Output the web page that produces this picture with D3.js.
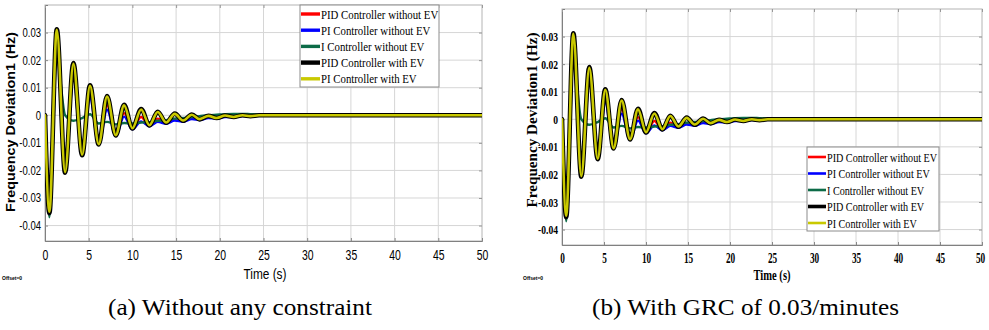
<!DOCTYPE html>
<html><head><meta charset="utf-8">
<script src="https://cdn.jsdelivr.net/npm/d3@7"></script>
<style>body{margin:0;background:#fff;} svg{display:block;}</style>
</head><body>
<svg id="c" width="989" height="330"></svg>
<script>
// ---------- DATA ----------
const timeS = [0, 0.5, 1.35, 2.3, 3.25, 4.25, 5.15, 6.15, 7.1, 8.1, 9.05, 10.0, 11.0, 11.95, 12.9, 13.85, 14.85, 15.8, 16.8, 17.7, 18.7, 19.65, 20.6, 21.6, 22.6, 23.5, 24.5, 26, 28, 30, 35, 40, 45, 50];
const pidWithoutEV = [0, -0.034, 0.025, -0.0205, 0.0172, -0.0145, 0.0082, -0.0105, 0.0036, -0.0073, 0.0008, -0.0049, -0.0006, -0.0038, -0.0012, -0.0028, -0.0013, -0.0021, -0.0009, -0.0015, -0.0007, -0.001, -0.0003, -0.0006, -0.0001, -0.0003, 0, 0, 0, 0, 0, 0, 0, 0];
const piWithoutEV  = [0, -0.034, 0.027, -0.0207, 0.0135, -0.0147, 0.006, -0.0107, 0.002, -0.0075, -0.0005, -0.0051, -0.0022, -0.004, -0.0024, -0.0031, -0.0019, -0.0024, -0.0014, -0.0017, -0.001, -0.0012, -0.0006, -0.0007, -0.0003, -0.0004, -0.0001, 0, 0, 0, 0, 0, 0, 0];
const iWithoutEV   = [0, -0.037, 0.021, 0.0, -0.002, -0.001, 0.0004, -0.003, -0.0024, -0.0033, -0.0028, -0.003, -0.0026, -0.0025, -0.002, -0.0018, -0.0012, -0.001, -0.0006, -0.0003, 0.0, 0.0002, 0.0004, 0.0005, 0.0005, 0.0004, 0.0003, 0.0002, 0.0001, 0, 0, 0, 0, 0];
const pidWithEV    = [0, -0.0355, 0.0312, -0.0208, 0.0189, -0.0145, 0.0109, -0.0106, 0.007, -0.0073, 0.0038, -0.0048, 0.0023, -0.0037, 0.0013, -0.0027, 0.0006, -0.002, 0.0003, -0.0015, -0.0002, -0.001, -0.0001, -0.0006, 0, -0.0003, 0, 0, 0, 0, 0, 0, 0, 0];
const piWithEV     = [0, -0.035, 0.031, -0.0206, 0.0187, -0.0143, 0.0107, -0.0105, 0.0068, -0.0072, 0.0036, -0.0047, 0.0021, -0.0036, 0.0012, -0.0026, 0.0005, -0.0019, 0.0002, -0.0014, -0.0002, -0.001, -0.0001, -0.0006, 0, -0.0003, 0, 0, 0, 0, 0, 0, 0, 0];
const seriesNames = ["PID Controller without EV", "PI Controller without EV", "I Controller without EV", "PID Controller with EV", "PI Controller with EV"];
const seriesValues = [pidWithoutEV, piWithoutEV, iWithoutEV, pidWithEV, piWithEV];
const xTicks = [0, 5, 10, 15, 20, 25, 30, 35, 40, 45, 50];
const yTicks = [0.03, 0.02, 0.01, 0, -0.01, -0.02, -0.03, -0.04];
const yTickLabels = ["0.03", "0.02", "0.01", "0", "-0.01", "-0.02", "-0.03", "-0.04"];
const captions = ["(a) Without any constraint", "(b) With GRC of 0.03/minutes"];

// ---------- STYLE ----------
const colors = ["#ff0000", "#0000ff", "#0c6b47", "#000000", "#c9c900"];
const widths = [2.4, 2.4, 2.4, 4.6, 2.6];
const SERIF = "'Liberation Serif', 'Times New Roman', Times, 'DejaVu Serif', serif";
const SANS = "'Liberation Sans', Arial, Helvetica, sans-serif";

const svg = d3.select("#c");
svg.append("rect").attr("width", 989).attr("height", 330).attr("fill", "#fff");

function squeeze(sel, ratio) {
  sel.each(function () {
    const w = this.getComputedTextLength();
    this.setAttribute("textLength", w * ratio);
    this.setAttribute("lengthAdjust", "spacingAndGlyphs");
  });
}

function panel(p, idx) {
  const g = svg.append("g");
  const x = d3.scaleLinear().domain([0, 50]).range([p.left, p.right]);
  const y = d3.scaleLinear().domain([-0.0456, 0.0400]).range([p.bottom, p.top]);

  g.append("rect").attr("x", p.left).attr("y", p.top)
    .attr("width", p.right - p.left).attr("height", p.bottom - p.top).attr("fill", "#fff");

  // grid
  g.append("g").selectAll("line").data(xTicks.slice(1, -1)).join("line")
    .attr("x1", d => x(d)).attr("x2", d => x(d)).attr("y1", p.top).attr("y2", p.bottom)
    .attr("stroke", "#d6d6d6").attr("stroke-width", 1);
  g.append("g").selectAll("line").data(yTicks).join("line")
    .attr("y1", d => y(d)).attr("y2", d => y(d)).attr("x1", p.left).attr("x2", p.right)
    .attr("stroke", "#d6d6d6").attr("stroke-width", 1);

  // frame
  g.append("rect").attr("x", p.left).attr("y", p.top)
    .attr("width", p.right - p.left).attr("height", p.bottom - p.top)
    .attr("fill", "none").attr("stroke", "#b4b4b4").attr("stroke-width", 1);

  // axes
  const ax = g.append("g").attr("transform", `translate(0,${p.bottom})`)
    .call(d3.axisBottom(x).tickValues(xTicks).tickSize(-3).tickPadding(p.xPad).tickFormat(d3.format("d")));
  const ay = g.append("g").attr("transform", `translate(${p.left},0)`)
    .call(d3.axisLeft(y).tickValues(yTicks).tickSize(-3).tickPadding(p.yPad).tickFormat((d, i) => yTickLabels[i]));
  const at = g.append("g").attr("transform", `translate(0,${p.top})`)
    .call(d3.axisTop(x).tickValues(xTicks).tickSize(-3).tickFormat(""));
  const ar = g.append("g").attr("transform", `translate(${p.right},0)`)
    .call(d3.axisRight(y).tickValues(yTicks).tickSize(-3).tickFormat(""));
  [at, ar].forEach(a => { a.select(".domain").remove(); a.selectAll("line").attr("stroke", "#999"); });
  [ax, ay].forEach(a => {
    a.select(".domain").attr("stroke", "#808080");
    a.selectAll(".tick line").attr("stroke", "#888");
  });
  ax.attr("font-family", null); ay.attr("font-family", null);
  ax.selectAll("text").style("font-family", p.font).attr("font-size", p.xFs).attr("font-weight", p.tickWeight).attr("fill", "#000");
  ay.selectAll("text").style("font-family", p.font).attr("font-size", p.yFs).attr("font-weight", p.tickWeight).attr("fill", "#000");
  squeeze(ax.selectAll("text"), p.xSq);
  squeeze(ay.selectAll("text"), p.ySq);
  ax.selectAll(".tick").filter(d => d === 50).select("text").attr("x", p.lastDx);

  // lines
  const clipId = "clip" + idx;
  g.append("clipPath").attr("id", clipId).append("rect")
    .attr("x", p.left).attr("y", p.top).attr("width", p.right - p.left).attr("height", p.bottom - p.top);
  const line = d3.line().x((d, i) => x(timeS[i])).y(d => y(d)).curve(d3.curveMonotoneX);
  const lg = g.append("g").attr("clip-path", `url(#${clipId})`);
  seriesValues.forEach((vals, k) => {
    lg.append("path").datum(vals).attr("d", line)
      .attr("fill", "none").attr("stroke", colors[k]).attr("stroke-width", widths[k])
      .attr("stroke-linejoin", "round").attr("stroke-linecap", "round");
  });

  // axis titles
  g.append("text").attr("x", p.xtX).attr("y", p.xtY).attr("text-anchor", "middle")
    .style("font-family", p.font).attr("font-size", 14).attr("font-weight", p.titleWeightX)
    .attr("textLength", p.xtLen).attr("lengthAdjust", "spacingAndGlyphs")
    .text("Time (s)");
  g.append("text").attr("transform", `translate(${p.ytX},${p.ytY}) rotate(-90)`)
    .attr("text-anchor", "middle").attr("dy", "0.35em")
    .style("font-family", p.font).attr("font-size", p.ytFs).attr("font-weight", "bold")
    .attr("textLength", p.ytLen).attr("lengthAdjust", "spacingAndGlyphs")
    .text("Frequency Deviation1 (Hz)");

  // Offset text
  g.append("text").attr("x", p.offX).attr("y", 280).style("font-family", SANS)
    .attr("font-size", 5).attr("font-weight", "bold").text("Offset=0");

  // legend
  const L = p.legend;
  const leg = g.append("g");
  leg.append("rect").attr("x", L.x).attr("y", L.y).attr("width", L.w).attr("height", L.h)
    .attr("fill", "#fff").attr("stroke", "#8c8c8c").attr("stroke-width", 1);
  seriesNames.forEach((name, k) => {
    const cy = L.row0 + k * L.step;
    leg.append("line").attr("x1", L.x + 1).attr("x2", L.lineEnd).attr("y1", cy).attr("y2", cy)
      .attr("stroke", colors[k]).attr("stroke-width", k === 3 ? L.lw + 1 : L.lw);
    leg.append("text").attr("x", L.lineEnd + 1).attr("y", cy).attr("dy", "0.35em")
      .style("font-family", SERIF).attr("font-size", 13).attr("fill", "#000")
      .text(name);
  });
  squeeze(leg.selectAll("text"), L.sq);

  // caption
  svg.append("text").attr("x", p.capX).attr("y", 315).attr("text-anchor", "middle")
    .style("font-family", SERIF).attr("font-size", 24)
    .attr("textLength", p.capLen).attr("lengthAdjust", "spacingAndGlyphs")
    .text(captions[idx]);
}

panel({
  left: 45, right: 482, top: 5, bottom: 241,
  font: SANS, tickWeight: "normal", xFs: 14.5, yFs: 12.5, xSq: 0.72, ySq: 0.76,
  xPad: 9, yPad: 4, lastDx: 0,
  xtX: 265, xtY: 279, xtLen: 43, titleWeightX: "normal",
  ytX: 10, ytY: 122, ytLen: 180, ytFs: 13,
  offX: 2,
  legend: { x: 300, y: 5, w: 139, h: 82, row0: 14, step: 16.2, lineEnd: 320, lw: 3.4, sq: 0.83 },
  capX: 240, capLen: 264
}, 0);

panel({
  left: 562, right: 982, top: 9, bottom: 245,
  font: SERIF, tickWeight: "bold", xFs: 14, yFs: 12.6, xSq: 0.66, ySq: 0.76,
  xPad: 8, yPad: 4, lastDx: -2,
  xtX: 772, xtY: 280, xtLen: 37, titleWeightX: "bold",
  ytX: 532, ytY: 120, ytLen: 175, ytFs: 14,
  offX: 523,
  legend: { x: 807, y: 147, w: 132, h: 84, row0: 157, step: 16.5, lineEnd: 826, lw: 2.6, sq: 0.78 },
  capX: 745.5, capLen: 307
}, 1);
</script>
</body></html>
